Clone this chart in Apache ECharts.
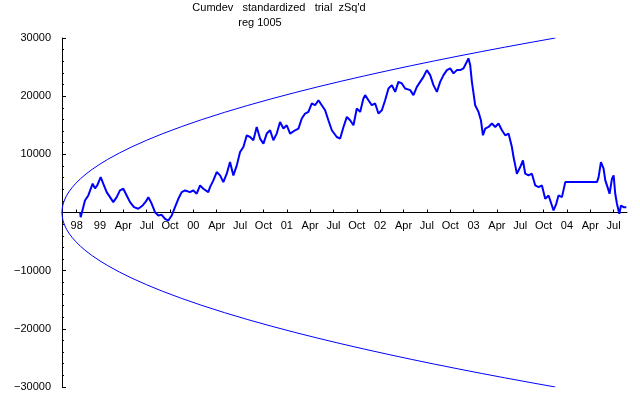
<!DOCTYPE html>
<html>
<head>
<meta charset="utf-8">
<script src="https://cdn.jsdelivr.net/npm/echarts@6/dist/echarts.min.js"></script>
<style>
html,body{margin:0;padding:0;background:#fff;}
#c{width:640px;height:395px;}
</style>
</head>
<body>
<div id="c"></div>
<script>
// x values are months counted from Jan 1998 (12 = Jan 1999)
var titleLine1 = "Cumdev   standardized   trial  zSq'd";
var titleLine2 = "reg 1005";

var tickMonths = [9,12,15,18,21,24,27,30,33,36,39,42,45,48,51,54,57,60,63,66,69,72,75,78];
var tickLabels = ["98","99","Apr","Jul","Oct","00","Apr","Jul","Oct","01","Apr","Jul","Oct","02","Apr","Jul","Oct","03","Apr","Jul","Oct","04","Apr","Jul"];

var envMonths = [7.12,7.14,7.18,7.25,7.35,7.5,7.7,8.0,8.4,8.9,9.5,10.2,11,12,13,14.5,16,18,20,22.5,25,28,31,34,37,40,43,46,49,52,55,58,61,64,67,70.5];
var envUpper  = [0,533,923,1359,1807,2323,2870,3535,4263,5027,5813,6613,7422,8324,9137,10236,11228,12429,13523,14777,15933,17218,18413,19536,20597,21606,22570,23495,24385,25243,26073,26877,27658,28418,29158,30000];
var envLower  = [0,-533,-923,-1359,-1807,-2323,-2870,-3535,-4263,-5027,-5813,-6613,-7422,-8324,-9137,-10236,-11228,-12429,-13523,-14777,-15933,-17218,-18413,-19536,-20597,-21606,-22570,-23495,-24385,-25243,-26073,-26877,-27658,-28418,-29158,-30000];

var devMonths = [9.45,9.52,10.07,10.50,11.06,11.36,11.65,12.09,12.42,12.86,13.29,13.71,14.15,14.57,15.00,15.43,15.86,16.37,16.92,17.49,17.91,18.21,18.65,19.07,19.50,19.93,20.36,20.78,21.22,21.64,22.07,22.50,22.93,23.57,24.00,24.43,24.86,25.28,25.92,
 26.14,26.57,27.00,27.43,27.85,28.29,28.71,29.14,29.58,30.00,30.43,30.86,31.29,31.71,32.14,32.57,33.00,33.43,33.86,34.28,34.71,35.14,35.57,36.00,36.43,37.07,37.50,37.93,38.36,38.78,39.22,39.64,40.07,40.50,40.93,41.35,41.79,
 42.00,42.43,42.86,43.29,43.72,44.14,44.57,45.00,45.43,45.85,46.07,46.50,46.93,47.36,47.78,48.22,48.64,49.07,49.50,49.93,50.35,50.79,51.21,51.86,52.28,52.72,53.14,53.57,54.00,54.43,54.85,55.29,55.71,56.14,56.58,57.00,57.43,57.86,58.29,58.71,59.14,59.35,59.57,59.79,60.00,60.21,60.64,60.95,61.21,61.50,61.93,62.36,62.79,63.21,63.65,64.07,64.50,64.93,65.14,65.36,65.57,66.00,66.35,66.64,67.07,67.50,67.93,68.36,68.79,69.21,69.64,70.07,70.28,70.63,70.92,71.36,71.79,75.86,76.07,76.37,76.71,76.93,77.22,77.48,77.79,78.00,78.21,78.43,78.73,78.95,79.28,79.63];
var devValues = [0,-810,2069,2931,4948,4138,4655,6086,4948,3500,2638,1776,2638,3793,4086,2931,1776,914,638,1207,1897,2638,1500,52,-517,-397,-1086,-1379,-517,914,2362,3500,3793,3500,3793,3224,4655,4086,3500,
 4362,5517,6948,6379,5224,6672,8672,6379,8103,10396,11258,13276,12982,12413,14706,12706,11844,13568,14137,12413,13568,15568,14430,15000,13568,14137,14430,16154,17016,17292,18740,18447,19309,18447,17585,15861,14137,
 13844,12982,12706,14706,16430,15861,15000,17878,17292,19602,20172,19309,18447,18740,17016,17585,19309,21326,21895,20740,22464,22188,21326,21033,20172,21602,22464,23326,24482,23619,21895,20740,22464,23619,24482,24774,23912,24482,24482,24774,25912,26498,25343,22464,20464,18447,17292,15861,13276,14430,14706,15292,14706,15292,14137,13276,13568,11258,9534,8103,6672,7810,8965,6672,6379,6672,4655,4362,4655,2362,2931,1207,345,1500,2931,2638,5224,5224,6086,8672,7534,5517,4362,3224,5810,6379,3224,1500,-224,1207,914,914];

var FONT = 'Liberation Sans';

function pairs(xs, ys){ var out=[]; for(var i=0;i<xs.length;i++) out.push([xs[i], ys[i]]); return out; }

var chart = echarts.init(document.getElementById('c'), null, {renderer:'canvas'});
chart.setOption({
  animation:false,
  backgroundColor:'#ffffff',
  grid:{left:62, right:13, top:38, bottom:8, containLabel:false, outerBoundsMode:'none'},
  graphic:[
    {type:'text', x:279, y:8, style:{text:titleLine1, font:'11px "'+FONT+'"', fill:'#000', align:'center', verticalAlign:'middle'}},
    {type:'text', x:260, y:23, style:{text:titleLine2, font:'11px "'+FONT+'"', fill:'#000', align:'center', verticalAlign:'middle'}}
  ],
  xAxis:{
    type:'value', min:7.12, max:79.72, position:'bottom', offset:-174.5,
    axisLine:{onZero:false, lineStyle:{color:'#000', width:1}},
    axisTick:{show:true, inside:true, length:3, customValues:tickMonths, lineStyle:{color:'#000'}},
    axisLabel:{show:true, customValues:tickMonths, margin:8, color:'#000', fontFamily:FONT, fontSize:11,
      formatter:function(v){ var i = tickMonths.indexOf(Math.round(v)); return i>=0 ? tickLabels[i] : ''; }},
    splitLine:{show:false}
  },
  yAxis:{
    type:'value', min:-30000, max:30000, interval:10000,
    axisLine:{show:true, onZero:false, lineStyle:{color:'#000', width:1}},
    axisTick:{show:true, inside:true, length:4, lineStyle:{color:'#000'}},
    minorTick:{show:true, splitNumber:5, length:2, lineStyle:{color:'#000'}},
    axisLabel:{margin:11, color:'#000', fontFamily:FONT, fontSize:11,
      formatter:function(v){ if(v===0) return ''; return v<0 ? '\u2212'+(-v) : ''+v; }},
    splitLine:{show:false}
  },
  series:[
    {type:'line', data:pairs(envMonths, envUpper), showSymbol:false, lineStyle:{color:'#0000ff', width:1}, z:2},
    {type:'line', data:pairs(envMonths, envLower), showSymbol:false, lineStyle:{color:'#0000ff', width:1}, z:2},
    {type:'line', data:pairs(devMonths, devValues), showSymbol:false, lineStyle:{color:'#0000ff', width:2}, z:3}
  ]
});
</script>
</body>
</html>
